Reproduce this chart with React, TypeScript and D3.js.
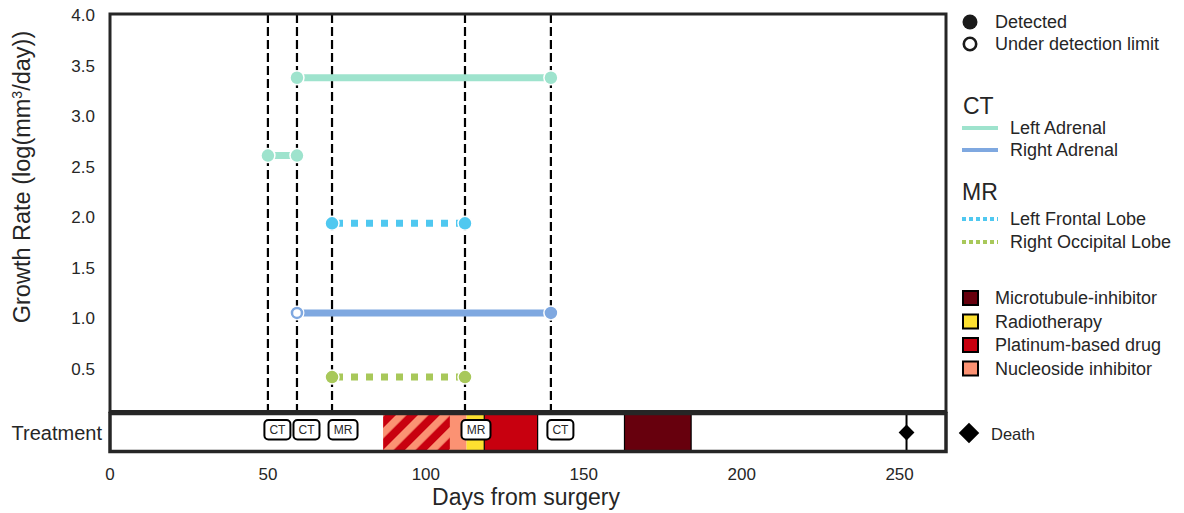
import React from "react";
import * as d3 from "d3";

// ---------- data ----------
const scanDays = [50, 59.2, 70.3, 112.4, 139.6];
const scanTypes = ["CT", "CT", "MR", "MR", "CT"];

const leftAdrenalA_days = [50, 59.2];
const leftAdrenalA_vals = [2.61, 2.61];
const leftAdrenalB_days = [59.2, 139.6];
const leftAdrenalB_vals = [3.38, 3.38];
const rightAdrenal_days = [59.2, 139.6];
const rightAdrenal_vals = [1.055, 1.055];
const rightAdrenal_detected = [false, true];
const leftFrontal_days = [70.3, 112.4];
const leftFrontal_vals = [1.94, 1.94];
const rightOccipital_days = [70.3, 112.4];
const rightOccipital_vals = [0.42, 0.42];

const treatNames = ["Nucleoside inhibitor", "Platinum-based drug", "Radiotherapy", "Platinum-based drug", "Microtubule-inhibitor"];
const treatStart = [86.5, 86.5, 112.9, 118.5, 162.9];
const treatEnd = [112.9, 107.6, 118.5, 135.4, 184.0];
const treatHatched = [false, true, false, false, false];

const deathDay = 252.2;

const yTicks = [0.5, 1.0, 1.5, 2.0, 2.5, 3.0, 3.5, 4.0];
const xTicks = [0, 50, 100, 150, 200, 250];

const legendTreat = ["Microtubule-inhibitor", "Radiotherapy", "Platinum-based drug", "Nucleoside inhibitor"];

// ---------- style ----------
const C = {
  leftAdrenal: "#9ee3cd",
  rightAdrenal: "#7fa8e0",
  leftFrontal: "#4fc8f0",
  rightOccipital: "#a8c85a",
  frame: "#262626",
};
const treatColor: Record<string, string> = {
  "Microtubule-inhibitor": "#67000d",
  "Radiotherapy": "#fde030",
  "Platinum-based drug": "#c8000f",
  "Nucleoside inhibitor": "#fb9273",
};
const FONT = "'Liberation Sans', Arial, sans-serif";

export default function App() {
  const W = 1184, H = 513;
  const x = d3.scaleLinear().domain([0, 264.7]).range([110, 946]);
  const y = d3.scaleLinear().domain([0.09, 4.0]).range([410.5, 15]);
  const plotTop = 14, plotBottom = 411.5;
  const tTop = 413.5, tBottom = 451.5;

  const line = (days: number[], vals: number[]) =>
    d3.line<number>().x((d, i) => x(days[i])).y((d, i) => y(vals[i]))(days.map((_, i) => i)) as string;

  const solidSeries = [
    { days: leftAdrenalA_days, vals: leftAdrenalA_vals, color: C.leftAdrenal, det: [true, true] },
    { days: leftAdrenalB_days, vals: leftAdrenalB_vals, color: C.leftAdrenal, det: [true, true] },
    { days: rightAdrenal_days, vals: rightAdrenal_vals, color: C.rightAdrenal, det: rightAdrenal_detected },
  ];
  const dotSeries = [
    { days: leftFrontal_days, vals: leftFrontal_vals, color: C.leftFrontal, det: [true, true] },
    { days: rightOccipital_days, vals: rightOccipital_vals, color: C.rightOccipital, det: [true, true] },
  ];

  const tMid = (tTop + tBottom) / 2;
  const diamond = (size: number) => d3.symbol().type(d3.symbolSquare).size(size)() as string;

  return (
    <svg width={W} height={H} style={{ position: "absolute", left: 0, top: 0, fontFamily: FONT }}>
      <defs>
        <pattern id="hatch" patternUnits="userSpaceOnUse" width="15.5" height="15.5" patternTransform="rotate(45)">
          <rect width="15.5" height="15.5" fill={treatColor["Platinum-based drug"]} />
          <rect x="0" width="7.5" height="15.5" fill={treatColor["Nucleoside inhibitor"]} />
        </pattern>
        <clipPath id="plotclip">
          <rect x={110} y={plotTop} width={836} height={plotBottom - plotTop} />
        </clipPath>
      </defs>
      <rect width={W} height={H} fill="white" />

      {/* vertical scan lines */}
      {scanDays.map((d, i) => (
        <line key={"v" + i} x1={x(d)} x2={x(d)} y1={plotTop} y2={plotBottom} stroke="black" strokeWidth={2.2} strokeDasharray="9,4" />
      ))}

      {/* data lines */}
      <g clipPath="url(#plotclip)">
        {solidSeries.map((s, i) => (
          <path key={"s" + i} d={line(s.days, s.vals)} stroke={s.color} strokeWidth={7} fill="none" />
        ))}
        {dotSeries.map((s, i) => (
          <path key={"d" + i} d={line(s.days, s.vals)} stroke={s.color} strokeWidth={7} fill="none" strokeDasharray="7,8" strokeDashoffset={-4} />
        ))}
        {[...solidSeries, ...dotSeries].map((s, i) =>
          s.days.map((d, j) =>
            s.det[j] ? (
              <circle key={"c" + i + "-" + j} cx={x(d)} cy={y(s.vals[j])} r={7} fill={s.color} stroke="white" strokeWidth={1.5} />
            ) : (
              <g key={"c" + i + "-" + j}>
                <circle cx={x(d)} cy={y(s.vals[j])} r={7.5} fill="white" />
                <circle cx={x(d)} cy={y(s.vals[j])} r={5} fill="white" stroke={s.color} strokeWidth={2.5} />
              </g>
            )
          )
        )}
      </g>

      {/* main frame */}
      <rect x={110} y={plotTop} width={836} height={plotBottom - plotTop} fill="none" stroke={C.frame} strokeWidth={3} />

      {/* y ticks */}
      {yTicks.map((t) => (
        <text key={"yt" + t} x={95} y={y(t)} dy="0.35em" textAnchor="end" fontSize={17} fill="#262626">
          {t.toFixed(1)}
        </text>
      ))}
      <text transform={`translate(22,177) rotate(-90)`} textAnchor="middle" fontSize={23.5} fill="#262626" dy="0.35em">
        Growth Rate (log(mm<tspan dy="-8" fontSize={14}>3</tspan><tspan dy="8">/day))</tspan>
      </text>

      {/* treatment bar */}
      <rect x={110} y={tTop} width={836} height={tBottom - tTop} fill="white" />
      {treatNames.map((n, i) => (
        <rect key={"tr" + i} x={x(treatStart[i])} y={tTop} width={x(treatEnd[i]) - x(treatStart[i])} height={tBottom - tTop}
          fill={treatHatched[i] ? "url(#hatch)" : treatColor[n]}
          stroke={treatHatched[i] ? "none" : n === "Radiotherapy" || n === "Nucleoside inhibitor" ? "none" : "black"} strokeWidth={1.2} />
      ))}
      <line x1={x(deathDay)} x2={x(deathDay)} y1={tTop} y2={tBottom} stroke="black" strokeWidth={2} />
      <path d={diamond(125)} transform={`translate(${x(deathDay)},${tMid}) rotate(45)`} fill="black" />
      {scanDays.map((d, i) => {
        const w = scanTypes[i] === "MR" ? 29 : 26;
        return (
          <g key={"lab" + i}>
            <rect x={x(d) - 3.5} y={tMid - 12.5} width={w} height={19.5} rx={4} fill="white" stroke="black" strokeWidth={2} />
            <text x={x(d) - 3.5 + w / 2} y={tMid - 2.8} dy="0.35em" textAnchor="middle" fontSize={12} fill="#262626">{scanTypes[i]}</text>
          </g>
        );
      })}
      <rect x={110} y={tTop} width={836} height={tBottom - tTop} fill="none" stroke={C.frame} strokeWidth={3.5} />
      <text x={102} y={tMid} dy="0.35em" textAnchor="end" fontSize={20} fill="#262626">Treatment</text>

      {/* x ticks */}
      {xTicks.map((t) => (
        <text key={"xt" + t} x={x(t)} y={474} dy="0.35em" textAnchor="middle" fontSize={17} fill="#262626">{t}</text>
      ))}
      <text x={526} y={497} dy="0.35em" textAnchor="middle" fontSize={23} fill="#262626">Days from surgery</text>

      {/* legend */}
      <g fontSize={18} fill="#262626">
        <circle cx={970} cy={22} r={7.5} fill="#1a1a1a" />
        <text x={995} y={22} dy="0.35em">Detected</text>
        <circle cx={970} cy={44} r={6.2} fill="white" stroke="#1a1a1a" strokeWidth={2.6} />
        <text x={995} y={44} dy="0.35em">Under detection limit</text>

        <text x={963} y={106} dy="0.35em" fontSize={23}>CT</text>
        <line x1={962} x2={998} y1={128} y2={128} stroke={C.leftAdrenal} strokeWidth={4} />
        <text x={1010} y={128} dy="0.35em">Left Adrenal</text>
        <line x1={962} x2={998} y1={150} y2={150} stroke={C.rightAdrenal} strokeWidth={4} />
        <text x={1010} y={150} dy="0.35em">Right Adrenal</text>

        <text x={962} y={192} dy="0.35em" fontSize={23}>MR</text>
        <line x1={962} x2={998} y1={219} y2={219} stroke={C.leftFrontal} strokeWidth={4} strokeDasharray="4,3" />
        <text x={1010} y={219} dy="0.35em">Left Frontal Lobe</text>
        <line x1={962} x2={998} y1={242} y2={242} stroke={C.rightOccipital} strokeWidth={4} strokeDasharray="4,3" />
        <text x={1010} y={242} dy="0.35em">Right Occipital Lobe</text>

        {legendTreat.map((n, i) => (
          <g key={"lt" + n}>
            <rect x={963} y={291 + i * 23.5} width={15} height={14} fill={treatColor[n]} stroke="black" strokeWidth={2} />
            <text x={995} y={298 + i * 23.5} dy="0.35em">{n}</text>
          </g>
        ))}

        <path d={diamond(210)} transform="translate(969,433) rotate(45)" fill="black" />
        <text x={991} y={434} dy="0.35em" fontSize={16.5}>Death</text>
      </g>
    </svg>
  );
}
